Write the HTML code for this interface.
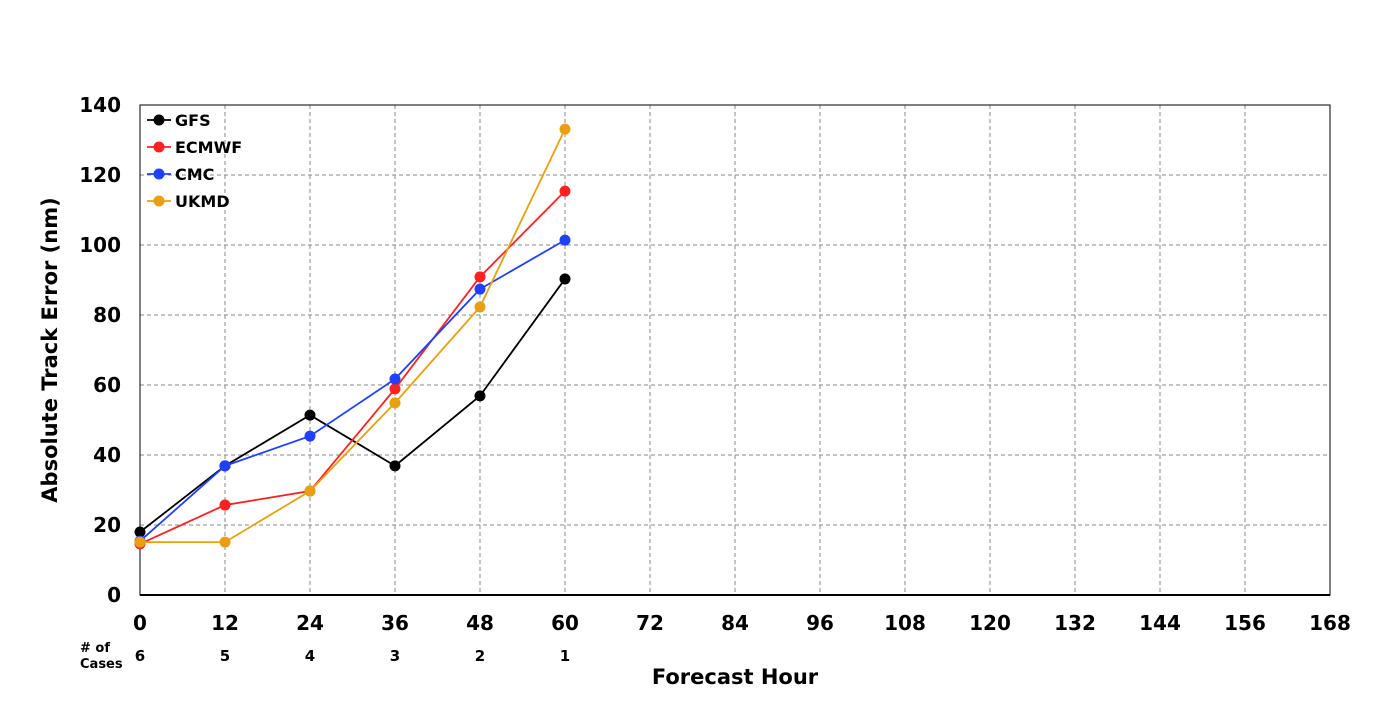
<!DOCTYPE html>
<html><head><meta charset="utf-8"><style>
body{margin:0;background:#fff;}
svg text{font-family:"DejaVu Sans","Liberation Sans",sans-serif;font-weight:bold;}
</style></head><body>
<svg id="chart" width="1400" height="700" xmlns="http://www.w3.org/2000/svg">
<g id="grid"></g>
<rect x="140" y="105" width="1190" height="490" fill="none" stroke="#000" stroke-width="1"/>
<line x1="140" y1="595" x2="1330" y2="595" stroke="#000" stroke-width="2"/>
<g id="ticks"></g>
<g id="series"></g>
<text transform="translate(57,350) rotate(-90)" text-anchor="middle" font-size="21" fill="#000">Absolute Track Error (nm)</text>
<text x="735" y="684" text-anchor="middle" font-size="21" fill="#000">Forecast Hour</text>
<text x="80" y="652" font-size="13" fill="#000">#&#160;of</text>
<text x="80" y="668" font-size="13" fill="#000">Cases</text>
<g id="legend"></g>
</svg>
<script>
const hours=[0,12,24,36,48,60];
const xTicks=[0,12,24,36,48,60,72,84,96,108,120,132,144,156,168];
const yTicks=[0,20,40,60,80,100,120,140];
const cases=[6,5,4,3,2,1];
const seriesNames=["GFS","ECMWF","CMC","UKMD"];
const seriesColors=["#000000","#ff2020","#2040ff","#e8a010"];
const gfs=[18,36.9,51.4,36.9,56.9,90.3];
const ecmwf=[14.6,25.7,29.7,58.9,90.9,115.4];
const cmc=[15.4,36.9,45.4,61.7,87.4,101.4];
const ukmd=[15.1,15.1,29.7,54.9,82.3,133.1];
const allSeries=[gfs,ecmwf,cmc,ukmd];
const NS="http://www.w3.org/2000/svg";
const X=v=>140+v*(1190/168), Y=v=>595-v*(490/140);
function mk(t,a,p){const e=document.createElementNS(NS,t);for(const k in a)e.setAttribute(k,a[k]);p.appendChild(e);return e;}
const grid=document.getElementById('grid'),ticks=document.getElementById('ticks'),ser=document.getElementById('series'),leg=document.getElementById('legend');
xTicks.forEach((t,i)=>{
  if(i>0&&i<xTicks.length-1){const l=mk('line',{x1:X(t),x2:X(t),y1:105,y2:595,stroke:'#888','stroke-dasharray':'4,3'},grid);
  
  }
  const tx=mk('text',{x:X(t),y:630,'text-anchor':'middle','font-size':20},ticks);tx.textContent=t;
  
  
});
yTicks.forEach((t,i)=>{
  if(i>0&&i<yTicks.length-1){const l=mk('line',{x1:140,x2:1330,y1:Y(t),y2:Y(t),stroke:'#888','stroke-dasharray':'4,3'},grid);
  
  }
  const tx=mk('text',{x:121,y:Y(t)+7,'text-anchor':'end','font-size':20},ticks);tx.textContent=t;
  
  
});
cases.forEach((c,i)=>{const tx=mk('text',{x:X(hours[i]),y:661,'text-anchor':'middle','font-size':15},ticks);tx.textContent=c;
  
  });
allSeries.forEach((s,k)=>{
  const g=mk('g',{},ser);
  
  
  mk('polyline',{points:s.map((v,i)=>X(hours[i])+','+Y(v)).join(' '),fill:'none',stroke:seriesColors[k],'stroke-width':1.8},g);
  s.forEach((v,i)=>{const c=mk('circle',{cx:X(hours[i]),cy:Y(v),r:5.5,fill:seriesColors[k]},g);
    
    });
  const ly=120+k*27;
  const lg=mk('g',{},leg);
  
  
  mk('line',{x1:147,x2:171,y1:ly,y2:ly,stroke:seriesColors[k],'stroke-width':1.8},lg);
  mk('circle',{cx:159,cy:ly,r:5.5,fill:seriesColors[k]},lg);
  const t=mk('text',{x:175,y:ly+6,'font-size':16},lg);t.textContent=seriesNames[k];
});
</script>
</body></html>
